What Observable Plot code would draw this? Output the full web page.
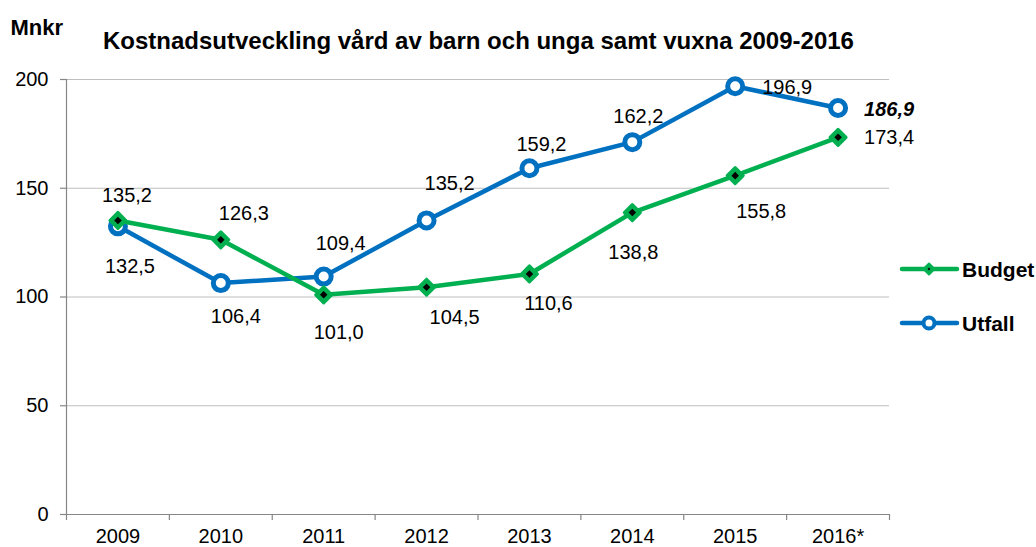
<!DOCTYPE html>
<html>
<head>
<meta charset="utf-8">
<script src="https://cdn.jsdelivr.net/npm/d3@7"></script>
<script src="https://cdn.jsdelivr.net/npm/@observablehq/plot@0.6"></script>
<style>
  html, body { margin: 0; padding: 0; background: #fff; }
  #wrap { position: relative; width: 1036px; height: 547px; overflow: hidden; font-family: "Liberation Sans", Arial, sans-serif; }
  #overlay { position: absolute; left: 0; top: 0; pointer-events: none; }
</style>
</head>
<body>
<div id="wrap"></div>
<script>
// ---- data ----
const categories = ["2009", "2010", "2011", "2012", "2013", "2014", "2015", "2016*"];
const budget = [135.2, 126.3, 101.0, 104.5, 110.6, 138.8, 155.8, 173.4];
const utfall = [132.5, 106.4, 109.4, 135.2, 159.2, 171.2, 196.9, 186.9];
const budgetLabels = ["135,2", "126,3", "101,0", "104,5", "110,6", "138,8", "155,8", "173,4"];
const utfallLabels = ["132,5", "106,4", "109,4", "135,2", "159,2", "162,2", "196,9", "186,9"];
const yTicks = [0, 50, 100, 150, 200];
const seriesNames = ["Budget", "Utfall"];
const titleText = "Kostnadsutveckling vård av barn och unga samt vuxna 2009-2016";
const unitText = "Mnkr";

// label offsets (px) relative to each point
const budgetLabelOffsets = [[9, -25], [23, -26], [15, 38], [28, 30], [19, 30], [1, 40], [26, 36], [51, 0]];
const utfallLabelOffsets = [[12, 40], [15, 34], [17, -33], [23, -37], [12, -24], [6, -26], [52, 1], [51, 2]];

const GREEN = "#00B050";
const BLUE = "#0070C0";
const GRID = "#BFBFBF";
const AXIS = "#868686";

const budgetData = categories.map((c, i) => ({i, c, v: budget[i], label: budgetLabels[i]}));
const utfallData = categories.map((c, i) => ({i, c, v: utfall[i], label: utfallLabels[i]}));
const boundaries = d3.range(categories.length + 1).map(k => k - 0.5);

const labelMarks = [];
budgetData.forEach((d, k) => {
  labelMarks.push(Plot.text([d], {x: "i", y: "v", text: "label", dx: budgetLabelOffsets[k][0], dy: budgetLabelOffsets[k][1], fill: "black", fontSize: 20}));
});
utfallData.forEach((d, k) => {
  const last = k === utfallData.length - 1;
  labelMarks.push(Plot.text([d], {x: "i", y: "v", text: "label", dx: utfallLabelOffsets[k][0], dy: utfallLabelOffsets[k][1], fill: "black", fontSize: 20,
    fontWeight: last ? "bold" : "normal", fontStyle: last ? "italic" : "normal"}));
});

const chart = Plot.plot({
  width: 1036,
  height: 547,
  marginLeft: 66,
  marginRight: 147,
  marginTop: 79,
  marginBottom: 33,
  style: {fontFamily: "Liberation Sans, Arial, sans-serif", fontSize: "20px", color: "black", background: "white", overflow: "visible"},
  x: {domain: [-0.5, categories.length - 0.5], ticks: d3.range(categories.length), tickFormat: i => categories[i], tickSize: 0, tickPadding: 14, label: null},
  y: {domain: [0, 200], ticks: yTicks, tickSize: 0, tickPadding: 18, label: null},
  marks: [
    Plot.ruleY(yTicks.filter(t => t > 0), {stroke: GRID, strokeWidth: 1}),
    Plot.ruleY([0], {stroke: AXIS, strokeWidth: 1.2}),
    Plot.ruleX([boundaries[0]], {y1: 0, y2: 200, stroke: AXIS, strokeWidth: 1.2}),
    Plot.ruleX(boundaries, {y1: 0, y2: 0, insetBottom: -6, stroke: AXIS, strokeWidth: 1.2}),
    Plot.ruleY(yTicks, {x1: boundaries[0], x2: boundaries[0], insetLeft: -6, stroke: AXIS, strokeWidth: 1.2}),
    Plot.line(utfallData, {x: "i", y: "v", stroke: BLUE, strokeWidth: 4.5, strokeLinejoin: "round"}),
    Plot.dot(utfallData, {x: "i", y: "v", r: 7.5, fill: "white", stroke: BLUE, strokeWidth: 5}),
    Plot.line(budgetData, {x: "i", y: "v", stroke: GREEN, strokeWidth: 4.5, strokeLinejoin: "round"}),
    Plot.dot(budgetData, {x: "i", y: "v", symbol: "square", rotate: 45, r: 6.4, fill: GREEN, stroke: GREEN, strokeWidth: 3, strokeLinejoin: "round"}),
    Plot.dot(budgetData, {x: "i", y: "v", symbol: "square", rotate: 45, r: 3.0, fill: "black", stroke: "none"}),
    ...labelMarks
  ]
});

const wrap = document.getElementById("wrap");
wrap.appendChild(chart);

// overlay: unit label, title, legend
const ov = d3.select(wrap).append("svg").attr("id", "overlay").attr("width", 1036).attr("height", 547)
  .style("font-family", "Liberation Sans, Arial, sans-serif");
ov.append("text").attr("x", 10.5).attr("y", 35).attr("font-size", 22).attr("font-weight", "bold").attr("fill", "black").text(unitText);
ov.append("text").attr("x", 103).attr("y", 48.5).attr("font-size", 24).attr("font-weight", "bold").attr("fill", "black").text(titleText);

const leg = ov.append("g");
const legY = [269, 323];
// Budget
leg.append("line").attr("x1", 902).attr("x2", 957).attr("y1", legY[0]).attr("y2", legY[0]).attr("stroke", GREEN).attr("stroke-width", 4.5).attr("stroke-linecap", "round");
leg.append("path").attr("d", d3.symbol(d3.symbolSquare, 60)()).attr("transform", `translate(929,${legY[0]}) rotate(45)`).attr("fill", GREEN).attr("stroke", GREEN).attr("stroke-width", 2).attr("stroke-linejoin", "round");
leg.append("path").attr("d", d3.symbol(d3.symbolSquare, 4)()).attr("transform", `translate(929,${legY[0]}) rotate(45)`).attr("fill", "black");
leg.append("text").attr("x", 962).attr("y", legY[0] + 7.5).attr("font-size", 21).attr("font-weight", "bold").attr("fill", "black").text(seriesNames[0]);
// Utfall
leg.append("line").attr("x1", 902).attr("x2", 957).attr("y1", legY[1]).attr("y2", legY[1]).attr("stroke", BLUE).attr("stroke-width", 4.5).attr("stroke-linecap", "round");
leg.append("circle").attr("cx", 929).attr("cy", legY[1]).attr("r", 5.5).attr("fill", "white").attr("stroke", BLUE).attr("stroke-width", 4);
leg.append("text").attr("x", 962).attr("y", legY[1] + 7.5).attr("font-size", 21).attr("font-weight", "bold").attr("fill", "black").text(seriesNames[1]);
</script>
</body>
</html>
